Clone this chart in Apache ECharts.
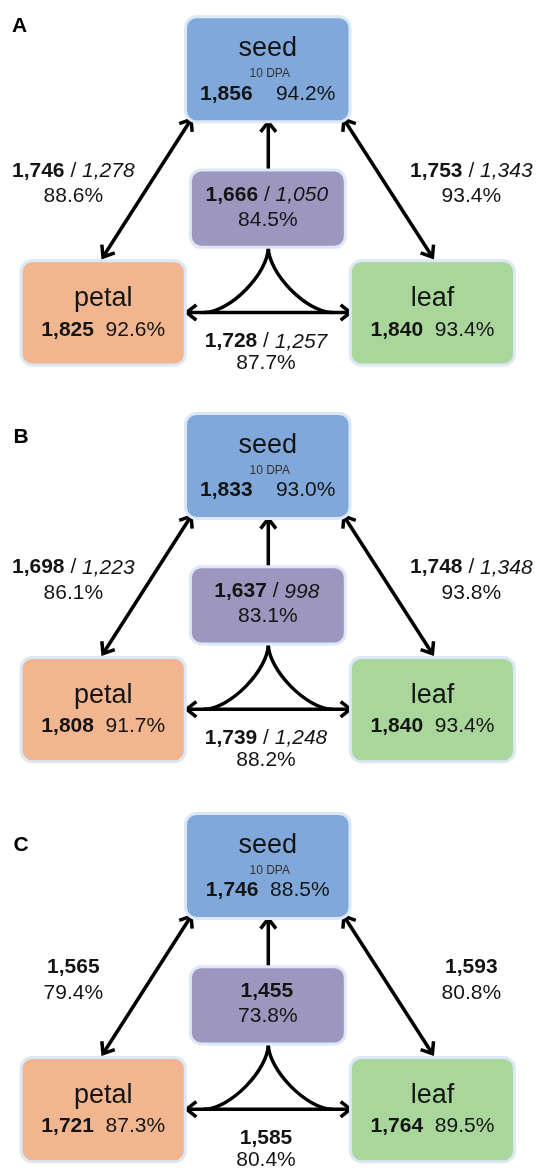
<!DOCTYPE html>
<html>
<head>
<meta charset="utf-8">
<script src="https://cdn.jsdelivr.net/npm/echarts@6/dist/echarts.min.js"></script>
<style>
html,body{margin:0;padding:0;background:#ffffff;}
#chart{width:536px;height:1172px;}
</style>
</head>
<body>
<div id="chart"></div>
<script>
// ---------------- DATA ----------------
const panels = ['A', 'B', 'C'];
const tissueNames = ['seed', 'petal', 'leaf'];
const seedStage = '10 DPA';

const seedCount = [1856, 1833, 1746];
const seedPct = [94.2, 93.0, 88.5];
const petalCount = [1825, 1808, 1721];
const petalPct = [92.6, 91.7, 87.3];
const leafCount = [1840, 1840, 1764];
const leafPct = [93.4, 93.4, 89.5];

const seedPetalCount = [1746, 1698, 1565];
const seedPetalSub = [1278, 1223, null];
const seedPetalPct = [88.6, 86.1, 79.4];

const seedLeafCount = [1753, 1748, 1593];
const seedLeafSub = [1343, 1348, null];
const seedLeafPct = [93.4, 93.8, 80.8];

const petalLeafCount = [1728, 1739, 1585];
const petalLeafSub = [1257, 1248, null];
const petalLeafPct = [87.7, 88.2, 80.4];

const allCount = [1666, 1637, 1455];
const allSub = [1050, 998, null];
const allPct = [84.5, 83.1, 73.8];

// ---------------- LAYOUT (frame units, relative to panel top) ----------------
const panelOffset = [0, 396.7, 796.7];
const letterPos = [[12, 26], [13.5, 437], [13.5, 845]];
const boxKinds = ['seed', 'all', 'petal', 'leaf'];
const boxLayout = {
  seed:  {x0: 185.5, x1: 350.0, y0: 16.7,  y1: 121.7, fill: '#80a8da'},
  all:   {x0: 190.4, x1: 345.3, y0: 170.0, y1: 247.3, fill: '#9d96be'},
  petal: {x0: 21.2,  x1: 185.3, y0: 260.7, y1: 365.0, fill: '#f1b68f'},
  leaf:  {x0: 350.4, x1: 514.5, y0: 260.7, y1: 365.0, fill: '#a8d69b'}
};
const edgeLabelPos = [ // seed-petal, seed-leaf, petal-leaf
  {x: 73.3,  y1: 171, y2: 196.5},
  {x: 471.3, y1: 171, y2: 196.5},
  {x: 266.0, y1: 341.7, y2: 363.5}
];
const arrowY = 312.5;
const arrows = { // [x1,y1,x2,y2, headStart, headEnd]
  left:  [191.0, 119.5, 103.0, 257, true, true],
  right: [344.0, 119.5, 432.4, 257, true, true],
  up:    [268.3, 170, 268.3, 122.0, false, true],
  horiz: [186.5, arrowY, 350.5, arrowY, true, true]
};
const cusp = {x: 268.3, top: 247.3, left: 204, right: 332.6, k: 0.4};
const seedGap = ['    ', '    ', '  '];

// ---------------- STYLE ----------------
const FONT = '"Liberation Sans", Arial, Helvetica, sans-serif';
const TXT = '#141414';
const NUM = 21;
const LW = 3.5;

function fmt(n) { return n.toLocaleString('en-US'); }
function pct(p) { return p.toFixed(1) + '%'; }
const rich = {
  b: {fontFamily: FONT, fontSize: NUM, fontWeight: 'bold', fill: TXT},
  n: {fontFamily: FONT, fontSize: NUM, fill: TXT},
  i: {fontFamily: FONT, fontSize: NUM, fontStyle: 'italic', fill: TXT},
  big: {fontFamily: FONT, fontSize: 27, fill: TXT},
  small: {fontFamily: FONT, fontSize: 12, fill: '#333'}
};
function pairText(count, sub) {
  return sub == null ? '{b|' + fmt(count) + '}' : '{b|' + fmt(count) + '}{n| / }{i|' + fmt(sub) + '}';
}
function textEl(api, x, y, text) {
  const c = api.coord([x, y]);
  return {type: 'text', x: c[0], y: c[1], style: {text: text, rich: rich, font: NUM + 'px ' + FONT, fill: TXT, align: 'center', verticalAlign: 'middle'}};
}

// ---------------- SERIES ----------------
const boxData = [];
panels.forEach((_, p) => boxKinds.forEach((_, k) => boxData.push([p, k])));

function renderBox(params, api) {
  const p = api.value(0), kind = boxKinds[api.value(1)];
  const L = boxLayout[kind], off = panelOffset[p];
  const a = api.coord([L.x0, L.y0 + off]), b = api.coord([L.x1, L.y1 + off]);
  const cx = (L.x0 + L.x1) / 2;
  const ch = [{
    type: 'rect',
    shape: {x: a[0], y: a[1], width: b[0] - a[0], height: b[1] - a[1], r: 11},
    style: {fill: L.fill, stroke: '#dce8f5', lineWidth: 3}
  }];
  if (kind === 'seed') {
    ch.push(textEl(api, cx, 49 + off, '{big|' + tissueNames[0] + '}'));
    ch.push(textEl(api, cx + 2, 74 + off, '{small|' + seedStage + '}'));
    ch.push(textEl(api, cx, 94 + off, '{b|' + fmt(seedCount[p]) + '}{n|' + seedGap[p] + pct(seedPct[p]) + '}'));
  } else if (kind === 'petal' || kind === 'leaf') {
    const cnt = kind === 'petal' ? petalCount[p] : leafCount[p];
    const pc = kind === 'petal' ? petalPct[p] : leafPct[p];
    ch.push(textEl(api, cx, 299 + off, '{big|' + kind + '}'));
    ch.push(textEl(api, cx, 330 + off, '{b|' + fmt(cnt) + '}{n|  ' + pct(pc) + '}'));
  } else {
    ch.push(textEl(api, cx - 1, 195 + off, pairText(allCount[p], allSub[p])));
    ch.push(textEl(api, cx, 220 + off, '{n|' + pct(allPct[p]) + '}'));
  }
  return {type: 'group', children: ch};
}

const edgeData = [];
panels.forEach((_, p) => [0, 1, 2].forEach(e => edgeData.push([p, e])));
function renderEdge(params, api) {
  const p = api.value(0), e = api.value(1), off = panelOffset[p];
  const P = edgeLabelPos[e];
  const cnt = [seedPetalCount, seedLeafCount, petalLeafCount][e][p];
  const sub = [seedPetalSub, seedLeafSub, petalLeafSub][e][p];
  const pc = [seedPetalPct, seedLeafPct, petalLeafPct][e][p];
  return {type: 'group', children: [
    textEl(api, P.x, P.y1 + off, pairText(cnt, sub)),
    textEl(api, P.x, P.y2 + off, '{n|' + pct(pc) + '}')
  ]};
}

function head(api, tip, from, off) {
  const dx = tip[0] - from[0], dy = tip[1] - from[1];
  const len = Math.hypot(dx, dy), ux = dx / len, uy = dy / len;
  const L = 12.5, ang = 38 * Math.PI / 180;
  const pts = [];
  [ang, -ang].forEach(t => {
    const rx = ux * Math.cos(t) - uy * Math.sin(t), ry = ux * Math.sin(t) + uy * Math.cos(t);
    pts.push([tip[0] - rx * L, tip[1] - ry * L]);
  });
  const c = pts.map(q => api.coord([q[0], q[1] + off]));
  const t = api.coord([tip[0], tip[1] + off]);
  return {type: 'polyline', shape: {points: [c[0], t, c[1]]},
    style: {stroke: '#000', lineWidth: LW, fill: null, lineJoin: 'miter', lineCap: 'butt'}};
}
function renderArrows(params, api) {
  const p = api.value(0), off = panelOffset[p];
  const ch = [];
  Object.keys(arrows).forEach(k => {
    const A = arrows[k];
    const s = [A[0], A[1]], e = [A[2], A[3]];
    const c1 = api.coord([s[0], s[1] + off]), c2 = api.coord([e[0], e[1] + off]);
    ch.push({type: 'line', shape: {x1: c1[0], y1: c1[1], x2: c2[0], y2: c2[1]}, style: {stroke: '#000', lineWidth: LW}});
    if (A[4]) ch.push(head(api, s, e, off));
    if (A[5]) ch.push(head(api, e, s, off));
  });
  const top = api.coord([cusp.x, cusp.top + off]);
  const c1 = api.coord([cusp.x, cusp.top + cusp.k * (arrowY - cusp.top) + off]);
  [cusp.left, cusp.right].forEach(xe => {
    const end = api.coord([xe, arrowY + off]);
    const c2 = api.coord([xe + cusp.k * (cusp.x - xe), arrowY + off]);
    ch.push({type: 'bezierCurve', shape: {x1: top[0], y1: top[1], cpx1: c1[0], cpy1: c1[1], cpx2: c2[0], cpy2: c2[1], x2: end[0], y2: end[1]},
      style: {stroke: '#000', lineWidth: LW, fill: null}});
  });
  return {type: 'group', children: ch};
}

function renderLetter(params, api) {
  const p = api.value(0);
  const c = api.coord([letterPos[p][0], letterPos[p][1]]);
  return {type: 'text', x: c[0], y: c[1], style: {text: panels[p], font: 'bold 21px ' + FONT, fill: '#000', align: 'left', verticalAlign: 'middle'}};
}

const chart = echarts.init(document.getElementById('chart'), null, {renderer: 'canvas'});
chart.setOption({
  animation: false,
  backgroundColor: '#ffffff',
  grid: {left: 0, right: 0, top: 0, bottom: 0},
  xAxis: {type: 'value', min: 0, max: 536, show: false},
  yAxis: {type: 'value', min: 0, max: 1172, inverse: true, show: false},
  series: [
    {type: 'custom', coordinateSystem: 'cartesian2d', data: panels.map((_, p) => [p, 0]), renderItem: renderArrows, silent: true, z: 2},
    {type: 'custom', coordinateSystem: 'cartesian2d', data: boxData, renderItem: renderBox, silent: true, z: 3},
    {type: 'custom', coordinateSystem: 'cartesian2d', data: edgeData, renderItem: renderEdge, silent: true, z: 4},
    {type: 'custom', coordinateSystem: 'cartesian2d', data: panels.map((_, p) => [p, 0]), renderItem: renderLetter, silent: true, z: 4}
  ]
});
</script>
</body>
</html>
